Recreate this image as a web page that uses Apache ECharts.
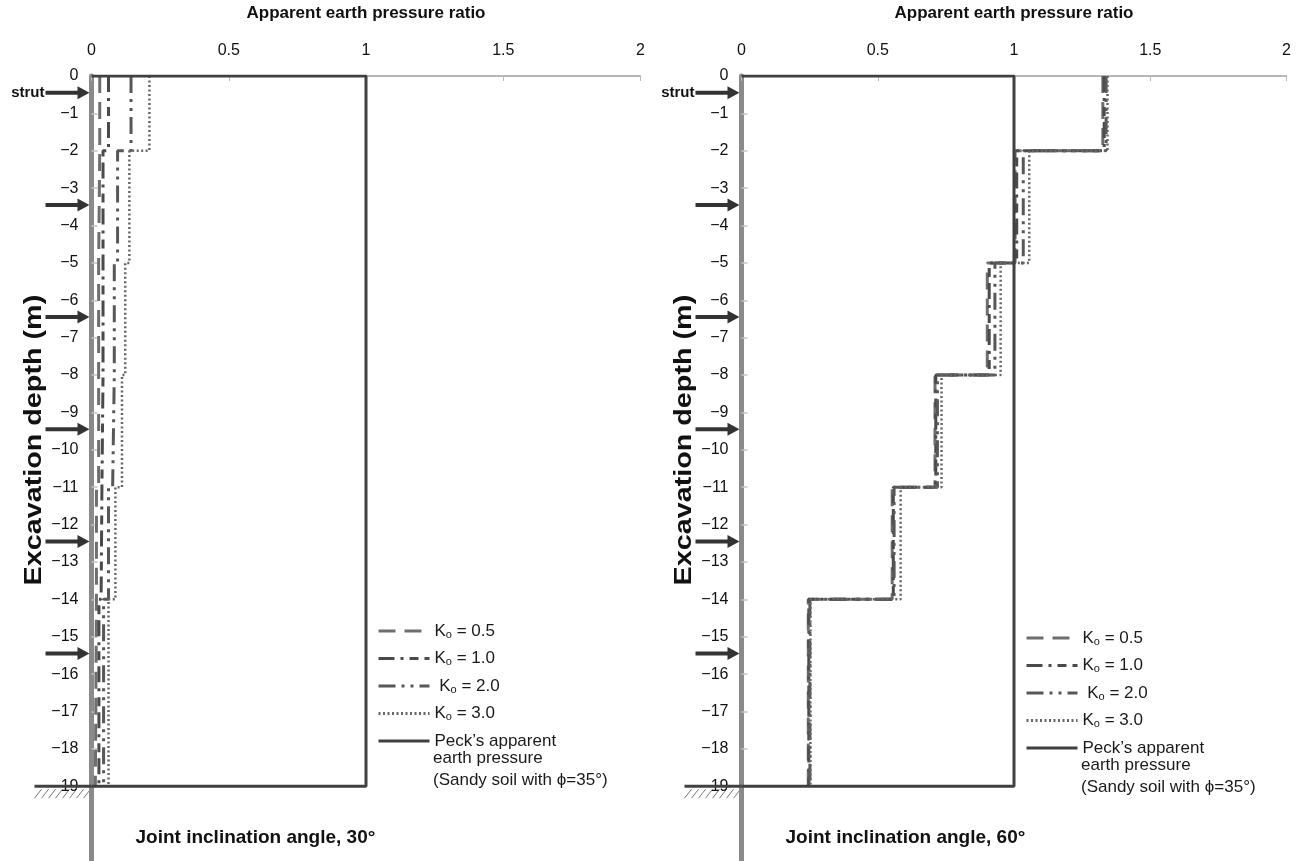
<!DOCTYPE html>
<html>
<head>
<meta charset="utf-8">
<script src="https://cdn.jsdelivr.net/npm/echarts@6/dist/echarts.min.js"></script>
<style>
  html, body { margin: 0; padding: 0; background: #fff; }
  #main { width: 1303px; height: 861px; }
</style>
</head>
<body>
<div id="main"></div>
<script>
// depth where each constant block of pressure ratio changes (m)
const depthBreaks = [0, -2, -5, -8, -11, -14, -19];
const depthTicks = [0, -1, -2, -3, -4, -5, -6, -7, -8, -9, -10, -11, -12, -13, -14, -15, -16, -17, -18, -19];
const strutDepths = [-0.45, -3.45, -6.45, -9.45, -12.45, -15.45];
const koNames = ['Ko = 0.5', 'Ko = 1.0', 'Ko = 2.0', 'Ko = 3.0'];
const peckName = 'Peck’s apparent';
const jointAngles = [30, 60];

// joint inclination 30 deg, one value per block
const ko05_30 = [0.030, 0.026, 0.026, 0.026, 0.018, 0.014];
const ko10_30 = [0.062, 0.042, 0.042, 0.038, 0.035, 0.027];
const ko20_30 = [0.144, 0.095, 0.083, 0.077, 0.062, 0.044];
const ko30_30 = [0.211, 0.138, 0.123, 0.111, 0.087, 0.062];
// joint inclination 60 deg
const ko05_60 = [1.326, 1.004, 0.902, 0.710, 0.553, 0.245];
const ko10_60 = [1.331, 1.010, 0.909, 0.713, 0.557, 0.247];
const ko20_60 = [1.338, 1.034, 0.930, 0.719, 0.560, 0.251];
const ko30_60 = [1.343, 1.056, 0.951, 0.734, 0.584, 0.253];
// Peck's envelope for sand (normalised)
const peckRatio = 1;
const excavationDepth = -19;

const koDash = [[17, 9], [16, 6, 3, 6, 9, 6], [17, 6, 3, 6, 3, 6], [2, 2.5]];
const koColor = ['#6e6e6e', '#4a4a4a', '#575757', '#666666'];
const koWidth = [3, 3, 3, 2.5];
const font = 'Liberation Sans, Arial, sans-serif';

const chart = echarts.init(document.getElementById('main'));

function steps(vals) {
  let pts = [];
  vals.forEach((v, i) => {
    pts.push([v, depthBreaks[i]]);
    pts.push([v, depthBreaks[i + 1]]);
  });
  return pts;
}

const grids = [
  { left: 91.5, top: 71, width: 549, height: 819 },
  { left: 741.5, top: 71, width: 545, height: 819 }
];

const xAxes = grids.map((g, i) => ({
  type: 'value', gridIndex: i, position: 'top', min: 0, max: 2, interval: 0.5,
  name: 'Apparent earth pressure ratio', nameLocation: 'middle', nameGap: 54,
  nameTextStyle: { fontSize: 17, fontWeight: 'bold', color: '#111', fontFamily: font },
  axisLine: { show: true, lineStyle: { color: '#a0a0a0', width: 1.5 } },
  axisTick: { show: true, inside: true, length: 5, lineStyle: { color: '#bbb' } },
  axisLabel: { fontSize: 16, color: '#111', margin: 17, fontFamily: font },
  splitLine: { show: false }
}));

const yAxes = grids.map((g, i) => ({
  type: 'value', gridIndex: i, min: -21, max: 0,
  axisLine: { show: true, onZero: false, lineStyle: { color: '#8a8a8a', width: 5 } },
  axisTick: { show: true, inside: true, length: 6, customValues: depthTicks, lineStyle: { color: '#c4c4c4', width: 1.5 } },
  axisLabel: {
    fontSize: 16, color: '#111', margin: 13, fontFamily: font, customValues: depthTicks,
    formatter: v => String(v).replace('-', '−')
  },
  splitLine: { show: false }
}));

const koSets = [[ko05_30, ko10_30, ko20_30, ko30_30], [ko05_60, ko10_60, ko20_60, ko30_60]];
let series = [];
koSets.forEach((set, g) => {
  set.forEach((vals, k) => {
    series.push({
      type: 'line', name: koNames[k], xAxisIndex: g, yAxisIndex: g,
      data: steps(vals), symbol: 'none', animation: false, z: 3,
      lineStyle: { color: koColor[k], width: koWidth[k], type: koDash[k], cap: 'butt' }
    });
  });
  series.push({
    type: 'line', name: peckName, xAxisIndex: g, yAxisIndex: g,
    data: [[0, 0], [peckRatio, 0], [peckRatio, excavationDepth], [0, excavationDepth]],
    symbol: 'none', animation: false, z: 4,
    lineStyle: { color: '#404040', width: 3, type: 'solid' }
  });
});

function legendText(name) {
  if (name === peckName) return '{p|' + name + '}';
  const val = name.split('= ')[1];
  const pre = val === '2.0' ? ' ' : '';
  return '{a|' + pre + 'K}{b|o}{a| = ' + val + '}';
}

const legendPos = [{ left: 377, top: 622 }, { left: 1025, top: 629 }];
const legends = legendPos.map(p => ({
  left: p.left, top: p.top, orient: 'vertical', itemGap: 9.5, padding: 0,
  itemWidth: 51, itemHeight: 14, selectedMode: false,
  data: koNames.concat([peckName]),
  itemStyle: { color: 'rgba(0,0,0,0)', borderWidth: 0, opacity: 0 },
  lineStyle: { width: 3 },
  formatter: legendText,
  textStyle: {
    color: '#1a1a1a', fontFamily: font, lineHeight: 18,
    rich: {
      a: { fontSize: 17, lineHeight: 18, fontFamily: font, color: '#1a1a1a' },
      b: { fontSize: 11, lineHeight: 10, verticalAlign: 'bottom', fontFamily: font, color: '#1a1a1a' },
      p: { fontSize: 17, lineHeight: 18, fontFamily: font, color: '#1a1a1a' }
    }
  }
}));

chart.setOption({
  backgroundColor: '#fff',
  animation: false,
  grid: grids,
  xAxis: xAxes,
  yAxis: yAxes,
  legend: legends,
  series: series
});

// decorations: strut arrows, ground hatch, axis names
let graphics = [];
grids.forEach((g, i) => {
  const top = chart.convertToPixel({ gridIndex: i }, [0, 0]);
  const bot = chart.convertToPixel({ gridIndex: i }, [0, excavationDepth]);
  const mid = chart.convertToPixel({ gridIndex: i }, [0, excavationDepth / 2]);
  const ax = top[0];
  strutDepths.forEach((d, k) => {
    const py = chart.convertToPixel({ gridIndex: i }, [0, d])[1];
    graphics.push({ type: 'line', shape: { x1: ax - 46, y1: py, x2: ax - 12, y2: py }, style: { stroke: '#333', lineWidth: 4 } });
    graphics.push({ type: 'polygon', shape: { points: [[ax - 14, py - 6.5], [ax - 2, py], [ax - 14, py + 6.5]] }, style: { fill: '#333' } });
    if (k === 0) {
      graphics.push({ type: 'text', x: ax - 47, y: py, style: { text: 'strut', fontSize: 15, fontWeight: 'bold', fontFamily: font, fill: '#111', align: 'right', verticalAlign: 'middle' } });
    }
  });
  graphics.push({ type: 'line', z: 10, shape: { x1: ax - 57, y1: bot[1], x2: ax, y2: bot[1] }, style: { stroke: '#404040', lineWidth: 3 } });
  for (let h = 0; h < 8; h++) {
    const hx = ax - 57 + h * 7;
    graphics.push({ type: 'line', shape: { x1: hx, y1: bot[1] + 12, x2: hx + 7, y2: bot[1] + 3 }, style: { stroke: '#777', lineWidth: 1 } });
  }
  graphics.push({ type: 'text', x: ax - 57, y: mid[1] + 9, rotation: Math.PI / 2, scaleX: 1.25, style: { text: 'Excavation depth (m)', fontSize: 23, fontWeight: 'bold', fontFamily: font, fill: '#111', align: 'center', verticalAlign: 'middle' } });
  graphics.push({ type: 'text', x: ax + 44, y: bot[1] + 52, style: { text: 'Joint inclination angle, ' + jointAngles[i] + '°', fontSize: 19, fontWeight: 'bold', fontFamily: font, fill: '#111', align: 'left', verticalAlign: 'middle' } });
  const lp = legendPos[i];
  graphics.push({ type: 'text', x: lp.left + 56, y: lp.top + 125, style: { text: 'earth pressure\n(Sandy soil with ϕ=35°)', fontSize: 17, lineHeight: 22, fontFamily: font, fill: '#1a1a1a', align: 'left', verticalAlign: 'top' } });
});

chart.setOption({ graphic: graphics });
</script>
</body>
</html>
